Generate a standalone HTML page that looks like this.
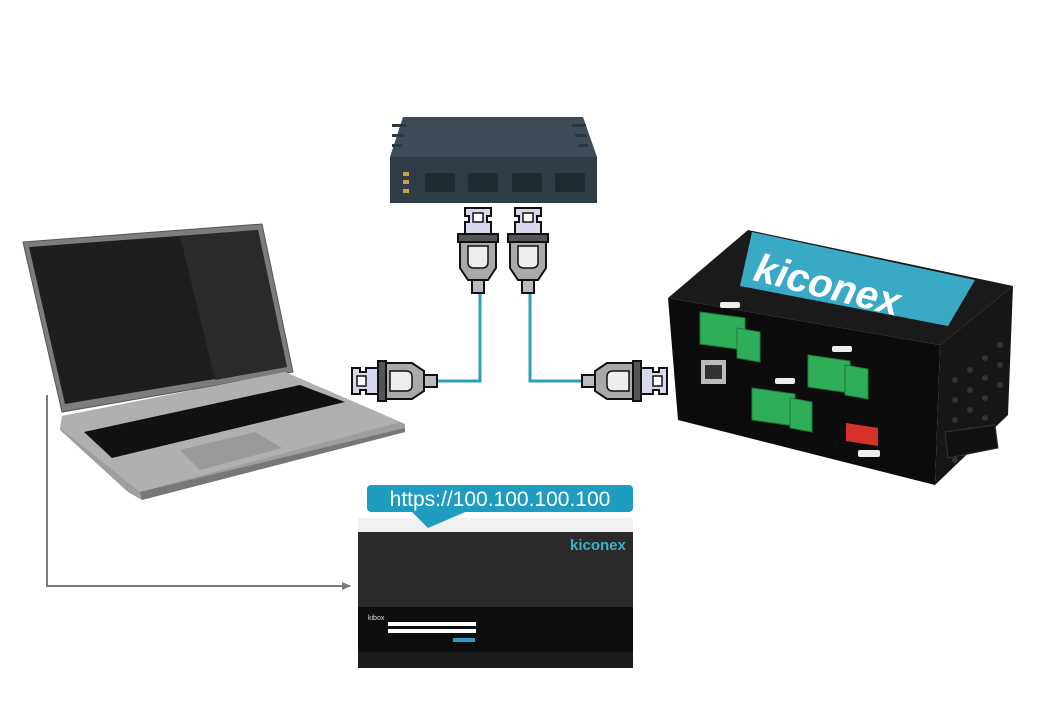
<!DOCTYPE html>
<html><head><meta charset="utf-8"><style>
html,body{margin:0;padding:0;background:#fff;}
svg{display:block;font-family:"Liberation Sans",sans-serif;}
</style></head><body>
<svg width="1040" height="720" viewBox="0 0 1040 720" xmlns="http://www.w3.org/2000/svg">
<defs>
<g id="plug">
  <path d="M-13,0 h26 v8 h-4 v6 h4 v12 h-26 v-12 h4 v-6 h-4z" fill="#d8d8ec" stroke="#111" stroke-width="2"/>
  <rect x="-5" y="5" width="10" height="9" fill="#fff" stroke="#111" stroke-width="1.5"/>
  <rect x="-20" y="26" width="40" height="8" fill="#555" stroke="#111" stroke-width="2"/>
  <path d="M-18,34 h36 v26 l-8,12 h-20 l-8,-12z" fill="#a9a9a9" stroke="#111" stroke-width="2"/>
  <path d="M-10,38 h20 v16 q0,6 -6,6 h-8 q-6,0 -6,-6z" fill="#eee" stroke="#111" stroke-width="1.5"/>
  <rect x="-6" y="72" width="12" height="13" fill="#bbb" stroke="#111" stroke-width="2"/>
</g>
<marker id="ah" markerWidth="10" markerHeight="10" refX="8" refY="5" orient="auto" markerUnits="userSpaceOnUse">
  <path d="M0,1 L9,5 L0,9z" fill="#7a7a7a"/>
</marker>
</defs>

<!-- Switch -->
<path d="M403,117 H583 L597,157 H390z" fill="#3d4c57"/>
<rect x="390" y="157" width="207" height="46" fill="#2f3d47"/>
<g fill="#2b3842">
<rect x="392" y="124" width="14" height="3"/><rect x="392" y="134" width="12" height="3"/><rect x="392" y="144" width="10" height="3"/>
<rect x="572" y="124" width="14" height="3"/><rect x="575" y="134" width="12" height="3"/><rect x="578" y="144" width="10" height="3"/>
</g>
<g fill="#1f2a31">
<rect x="425" y="173" width="30" height="19" rx="2"/><rect x="468" y="173" width="30" height="19" rx="2"/>
<rect x="512" y="173" width="30" height="19" rx="2"/><rect x="555" y="173" width="30" height="19" rx="2"/>
</g>
<g fill="#c8a04a"><rect x="403" y="172" width="6" height="4"/><rect x="403" y="180" width="6" height="4"/><rect x="403" y="189" width="6" height="4"/></g>

<!-- cables -->
<path d="M480,292 V381 H437" fill="none" stroke="#2aa0b8" stroke-width="3"/>
<path d="M530,292 V381 H582" fill="none" stroke="#2aa0b8" stroke-width="3"/>
<use href="#plug" transform="translate(478,208)"/>
<use href="#plug" transform="translate(528,208)"/>
<use href="#plug" transform="translate(352,381) rotate(-90)"/>
<use href="#plug" transform="translate(667,381) rotate(90)"/>

<!-- Laptop -->
<path d="M23,242 L262,224 L293,372 L62,412z" fill="#7d7d7d" stroke="#555" stroke-width="1"/>
<path d="M29,247 L258,230 L287,367 L65,404z" fill="#1e1e1e"/>
<path d="M180,236 L258,230 L287,367 L215,380z" fill="#2a2a2a"/>
<path d="M62,416 L285,372 L405,424 L405,432 L142,500 L128,492 L60,430z" fill="#9e9e9e"/>
<path d="M62,416 L285,372 L400,422 L140,492 L60,428z" fill="#b0b0b0"/>
<path d="M84,432 L300,385 L345,402 L112,458z" fill="#111"/>
<path d="M180,450 L255,432 L282,448 L200,470z" fill="#9a9a9a"/>
<path d="M140,492 L405,428 L405,432 L142,500z" fill="#777"/>

<!-- gray arrow -->
<path d="M47,395 V586 H350" fill="none" stroke="#7a7a7a" stroke-width="2" marker-end="url(#ah)"/>

<!-- screenshot -->
<rect x="358" y="518" width="275" height="14" fill="#f1f1f1"/>
<rect x="358" y="532" width="275" height="136" fill="#1c1c1c"/>
<rect x="358" y="532" width="275" height="75" fill="#2a2a2a"/>
<rect x="358" y="607" width="275" height="45" fill="#0e0e0e"/>
<text x="570" y="550" font-size="15" font-weight="bold" fill="#3ab0cc">kiconex</text>
<text x="368" y="620" font-size="7" fill="#ddd">kibox</text>
<rect x="388" y="622" width="88" height="4" fill="#fff"/>
<rect x="388" y="629" width="88" height="4" fill="#fff"/>
<rect x="453" y="638" width="22" height="4" fill="#2a9cc0"/>

<!-- callout -->
<path d="M410,510 L428,528 L470,510z" fill="#1f9dc1"/>
<rect x="367" y="485" width="266" height="27" rx="4" fill="#1f9dc1"/>
<text x="500" y="506" font-size="21" fill="#fff" text-anchor="middle">https://100.100.100.100</text>

<!-- Device box -->
<path d="M668,298 L748,230 L1013,286 L940,345z" fill="#1a1a1a"/>
<path d="M668,298 L940,345 L935,485 L678,420z" fill="#0c0c0c"/>
<path d="M940,345 L1013,286 L1008,415 L935,485z" fill="#161616"/>
<path d="M752,232 L975,280 L948,326 L740,286z" fill="#3aa9c6"/>
<text x="0" y="0" font-size="40" font-weight="bold" font-style="italic" fill="#fff" transform="translate(752,280) rotate(14)">kiconex</text>
<g fill="#333">
<circle cx="955" cy="380" r="3"/><circle cx="970" cy="370" r="3"/><circle cx="985" cy="358" r="3"/><circle cx="1000" cy="345" r="3"/>
<circle cx="955" cy="400" r="3"/><circle cx="970" cy="390" r="3"/><circle cx="985" cy="378" r="3"/><circle cx="1000" cy="365" r="3"/>
<circle cx="955" cy="420" r="3"/><circle cx="970" cy="410" r="3"/><circle cx="985" cy="398" r="3"/><circle cx="1000" cy="385" r="3"/>
<circle cx="955" cy="440" r="3"/><circle cx="970" cy="430" r="3"/><circle cx="985" cy="418" r="3"/>
<circle cx="955" cy="460" r="3"/><circle cx="970" cy="450" r="3"/>
</g>
<path d="M945,432 L995,425 L998,448 L948,458z" fill="#111" stroke="#333"/>
<g fill="#2fae5a" stroke="#1d7a3c" stroke-width="1">
<path d="M700,312 L745,318 L745,350 L700,344z"/><path d="M737,328 L760,332 L760,362 L737,358z"/>
<path d="M752,388 L795,394 L795,426 L752,420z"/><path d="M790,398 L812,402 L812,432 L790,428z"/>
<path d="M808,355 L850,361 L850,393 L808,387z"/><path d="M845,365 L868,369 L868,399 L845,395z"/>
</g>
<rect x="720" y="302" width="20" height="6" rx="2" fill="#eee"/>
<rect x="775" y="378" width="20" height="6" rx="2" fill="#eee"/>
<rect x="832" y="346" width="20" height="6" rx="2" fill="#eee"/>
<rect x="701" y="360" width="25" height="24" fill="#bbb"/><rect x="705" y="365" width="17" height="14" fill="#333"/>
<path d="M846,423 L878,428 L878,446 L846,441z" fill="#d6322c"/>
<rect x="858" y="450" width="22" height="7" rx="2" fill="#eee"/>
</svg>
</body></html>
